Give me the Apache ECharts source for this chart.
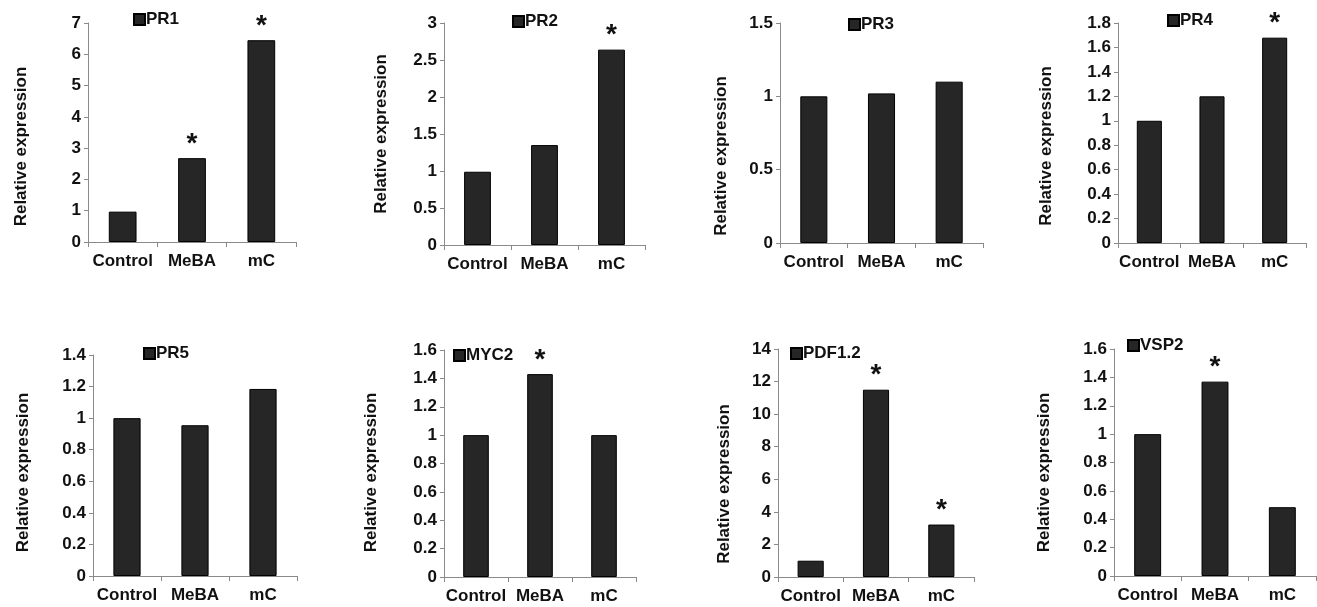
<!DOCTYPE html>
<html><head><meta charset="utf-8">
<script src="https://cdn.jsdelivr.net/npm/echarts@6/dist/echarts.min.js"></script>
<style>html,body{margin:0;padding:0;background:#fff}#c{width:1317px;height:607px}</style>
</head><body><div id="c"></div>
<script>
const categories = ['Control', 'MeBA', 'mC'];
const genes = ['PR1', 'PR2', 'PR3', 'PR4', 'PR5', 'MYC2', 'PDF1.2', 'VSP2'];
const PR1 = [0.97, 2.68, 6.45];
const PR2 = [0.99, 1.35, 2.64];
const PR3 = [1.0, 1.02, 1.10];
const PR4 = [1.0, 1.2, 1.68];
const PR5 = [1.0, 0.955, 1.185];
const MYC2 = [1.0, 1.43, 1.0];
const PDF12 = [1.0, 11.5, 3.22];
const VSP2 = [1.0, 1.37, 0.485];
const sigPR1 = [false, true, true];
const sigPR2 = [false, false, true];
const sigPR3 = [false, false, false];
const sigPR4 = [false, false, true];
const sigPR5 = [false, false, false];
const sigMYC2 = [false, true, false];
const sigPDF12 = [false, true, true];
const sigVSP2 = [false, true, false];
const yMax = [7, 3, 1.5, 1.8, 1.4, 1.6, 14, 1.6];
const yStep = [1, 0.5, 0.5, 0.2, 0.2, 0.2, 2, 0.2];

const values = [PR1, PR2, PR3, PR4, PR5, MYC2, PDF12, VSP2];
const sigs = [sigPR1, sigPR2, sigPR3, sigPR4, sigPR5, sigMYC2, sigPDF12, sigVSP2];

// layout
const grids = [
  {left: 88, top: 23, width: 208, height: 219},
  {left: 444, top: 23, width: 201, height: 222},
  {left: 780, top: 23, width: 203, height: 220},
  {left: 1118, top: 23, width: 188, height: 220},
  {left: 93, top: 355, width: 204, height: 221},
  {left: 444, top: 350, width: 192, height: 227},
  {left: 778, top: 349, width: 196, height: 228},
  {left: 1114, top: 349, width: 202, height: 227}
];
const nameGaps = [58, 54, 50, 63, 61, 64, 45, 61];
const nameShift = [14, 0, 23, 13, 7, 9, 21, 10];
const legendPos = [
  {left: 133, top: 11}, {left: 512, top: 13}, {left: 848, top: 16}, {left: 1167, top: 12},
  {left: 143, top: 345}, {left: 453, top: 347}, {left: 790, top: 345}, {left: 1127, top: 337}
];

const font = 'Liberation Sans, Arial, sans-serif';
const axisColor = '#8a8a8a';
const option = {
  animation: false,
  backgroundColor: '#fff',
  grid: grids.map(g => Object.assign({containLabel: false}, g)),
  legend: genes.map((g, i) => ({
    data: [g], left: legendPos[i].left, top: legendPos[i].top,
    icon: 'rect', itemWidth: 11, itemHeight: 11, padding: 0,
    textStyle: {fontFamily: font, fontWeight: 'bold', fontSize: 17, color: '#111', padding: [0, 0, 0, -4]}
  })),
  xAxis: genes.map((g, i) => ({
    type: 'category', gridIndex: i, data: categories,
    axisLine: {lineStyle: {color: axisColor, width: 1}},
    axisTick: {show: true, alignWithLabel: false, length: 5, lineStyle: {color: axisColor}},
    axisLabel: {fontFamily: font, fontWeight: 'bold', fontSize: 17, color: '#111', margin: 11, interval: 0}
  })),
  yAxis: genes.map((g, i) => ({
    type: 'value', gridIndex: i, min: 0, max: yMax[i], interval: yStep[i],
    name: 'Relative expression', nameLocation: 'middle', nameRotate: 90, nameGap: nameGaps[i],
    nameTextStyle: {fontFamily: font, fontWeight: 'bold', fontSize: 17, color: '#111',
      padding: [0, 2 * nameShift[i], 0, 0]},
    axisLine: {show: true, lineStyle: {color: axisColor, width: 1}},
    axisTick: {show: true, length: 4, lineStyle: {color: axisColor}},
    splitLine: {show: false},
    axisLabel: {fontFamily: font, fontWeight: 'bold', fontSize: 17, color: '#111', margin: 7}
  })),
  series: genes.map((g, i) => ({
    name: g, type: 'bar', xAxisIndex: i, yAxisIndex: i,
    data: values[i], barCategoryGap: '60%',
    itemStyle: {color: '#262626', borderColor: '#000', borderWidth: 1},
    label: {
      show: true, position: 'top', distance: 0,
      fontFamily: font, fontWeight: 'bold', fontSize: 28, color: '#111',
      formatter: p => sigs[i][p.dataIndex] ? '*' : ''
    }
  }))
};
echarts.init(document.getElementById('c'), null, {renderer: 'canvas'}).setOption(option);
</script></body></html>
